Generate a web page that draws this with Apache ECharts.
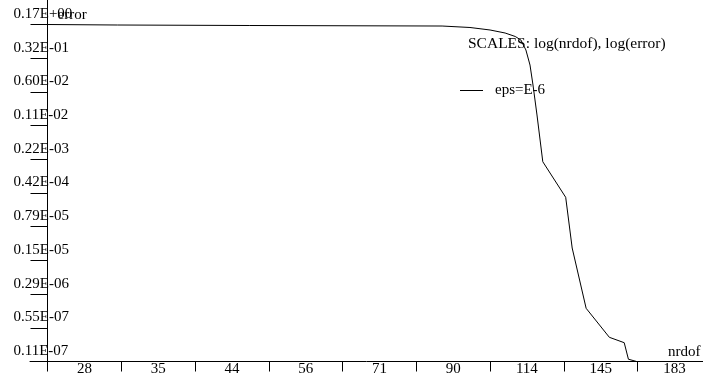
<!DOCTYPE html>
<html>
<head>
<meta charset="utf-8">
<script src="https://cdn.jsdelivr.net/npm/echarts@6/dist/echarts.min.js"></script>
<style>
html,body{margin:0;padding:0;background:#fff;}
#chart{width:703px;height:378px;}
</style>
</head>
<body>
<div id="chart"></div>
<script>
// ---- data ----
const xTickLabels = ['28', '35', '44', '56', '71', '90', '114', '145', '183'];
const yTickLabels = ['0.11E-07', '0.55E-07', '0.29E-06', '0.15E-05', '0.79E-05', '0.42E-04',
                     '0.22E-03', '0.11E-02', '0.60E-02', '0.32E-01', '0.17E+00'];
const nrdof = [24.9, 31.1, 47.4, 87.4, 95.5, 101.8, 106.8, 110.3, 112.3, 114.1, 115.6,
               116.7, 118.2, 120.4, 129.5, 132.2, 138.2, 148.8, 156.0, 158.1, 162.3];
const errorVals = [0.17, 0.1658, 0.1618, 0.1578, 0.1468, 0.1298, 0.1119, 0.0943, 0.0794,
                   0.0486, 0.0232, 0.00871, 0.001995, 2.01e-4, 3.50e-5, 2.90e-6, 1.50e-7,
                   3.61e-8, 2.77e-8, 1.23e-8, 1.1e-8];
const seriesName = 'eps=E-6';

// ---- log scales expressed in tick-step units ----
const X_REF = 28 / Math.sqrt(Math.pow(183 / 28, 1 / 8));
const X_STEP = Math.log(183 / 28) / 8;
const Y_REF = 1.1e-8;
const Y_STEP = Math.log(0.17 / 1.1e-8) / 10;
const xu = n => Math.log(n / X_REF) / X_STEP;
const yu = e => Math.log(e / Y_REF) / Y_STEP;

const points = nrdof.map((n, i) => [xu(n), yu(errorVals[i])]);

const FONT = 'Liberation Serif';
const chart = echarts.init(document.getElementById('chart'), null, {renderer: 'canvas'});
chart.setOption({
  animation: false,
  backgroundColor: '#fff',
  title: {
    text: 'SCALES: log(nrdof), log(error)',
    left: 468, top: 36, padding: 0,
    textStyle: {fontFamily: FONT, fontSize: 15.5, fontWeight: 'normal', color: '#000'}
  },
  legend: {
    left: 460, top: 83, padding: 0,
    icon: 'rect',
    itemWidth: 23, itemHeight: 1, itemGap: 0,
    data: [seriesName],
    textStyle: {fontFamily: FONT, fontSize: 15, color: '#000', padding: [0, 0, 0, 7]}
  },
  grid: {left: 30, right: 0, top: 0, bottom: 16.5, containLabel: false, outerBoundsMode: 'none'},
  xAxis: {
    type: 'value',
    min: -17.5 / 73.75,
    max: 655.5 / 73.75,
    name: 'nrdof',
    nameLocation: 'end',
    nameGap: -35,
    nameMoveOverlap: false,
    nameTextStyle: {fontFamily: FONT, fontSize: 15, color: '#000', align: 'left', verticalAlign: 'bottom', padding: [0, 0, 2, 0]},
    axisLine: {show: true, lineStyle: {color: '#000', width: 1}},
    axisTick: {show: true, length: 10, customValues: [0, 1, 2, 3, 4, 5, 6, 7, 8], lineStyle: {color: '#000'}},
    axisLabel: {
      customValues: [0.5, 1.5, 2.5, 3.5, 4.5, 5.5, 6.5, 7.5, 8.5],
      margin: 0,
      fontFamily: FONT, fontSize: 15, color: '#000',
      formatter: v => xTickLabels[Math.round(v - 0.5)]
    },
    splitLine: {show: false}
  },
  yAxis: {
    type: 'value',
    min: 0,
    max: 361.5 / 33.7,
    name: 'error',
    nameLocation: 'end',
    nameGap: -15,
    nameMoveOverlap: false,
    nameTextStyle: {fontFamily: FONT, fontSize: 15, color: '#000', align: 'left', verticalAlign: 'middle', padding: [0, 0, 0, 10]},
    axisLine: {show: true, onZero: true, lineStyle: {color: '#000', width: 1}},
    axisTick: {show: true, length: 17, customValues: [0, 1, 2, 3, 4, 5, 6, 7, 8, 9, 10], lineStyle: {color: '#000'}},
    axisLabel: {
      customValues: [0, 1, 2, 3, 4, 5, 6, 7, 8, 9, 10],
      margin: 16.5,
      align: 'left',
      verticalAlign: 'bottom',
      padding: [0, 0, 3, 0],
      fontFamily: FONT, fontSize: 15, color: '#000',
      formatter: v => yTickLabels[Math.round(v)]
    },
    splitLine: {show: false}
  },
  series: [{
    name: seriesName,
    type: 'line',
    data: points,
    symbol: 'none',
    showSymbol: false,
    lineStyle: {color: '#000', width: 1},
    itemStyle: {color: '#000'},
    clip: true
  }]
});
</script>
</body>
</html>
